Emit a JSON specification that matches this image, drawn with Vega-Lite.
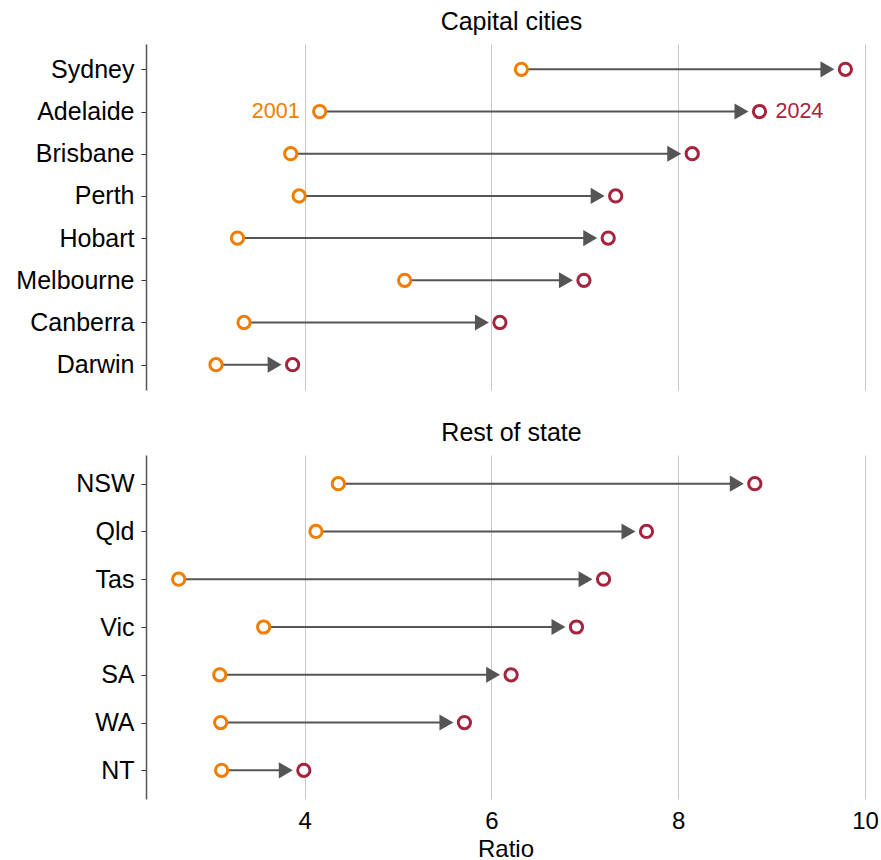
{
  "$schema": "https://vega.github.io/schema/vega-lite/v6.json",
  "background": "white",
  "padding": {"left": 15, "top": 10, "right": 5, "bottom": 0},
  "config": {
    "font": "Liberation Sans",
    "view": {"stroke": null},
    "concat": {"spacing": 31}
  },
  "datasets": {
    "capital": [
      {"region": "Sydney", "y2001": 6.32, "y2024": 9.79},
      {"region": "Adelaide", "y2001": 4.16, "y2024": 8.87},
      {"region": "Brisbane", "y2001": 3.85, "y2024": 8.15},
      {"region": "Perth", "y2001": 3.94, "y2024": 7.33},
      {"region": "Hobart", "y2001": 3.28, "y2024": 7.25},
      {"region": "Melbourne", "y2001": 5.07, "y2024": 6.99},
      {"region": "Canberra", "y2001": 3.35, "y2024": 6.09},
      {"region": "Darwin", "y2001": 3.05, "y2024": 3.87}
    ],
    "rest": [
      {"region": "NSW", "y2001": 4.36, "y2024": 8.82},
      {"region": "Qld", "y2001": 4.12, "y2024": 7.66},
      {"region": "Tas", "y2001": 2.65, "y2024": 7.2},
      {"region": "Vic", "y2001": 3.56, "y2024": 6.91},
      {"region": "SA", "y2001": 3.09, "y2024": 6.21},
      {"region": "WA", "y2001": 3.1, "y2024": 5.71},
      {"region": "NT", "y2001": 3.11, "y2024": 3.99}
    ]
  },
  "vconcat": [
    {
      "width": 719,
      "height": 346,
      "title": {"text": "Capital cities", "fontSize": 25, "fontWeight": "normal", "frame": "group", "anchor": "middle", "dx": 6, "offset": 9, "color": "black"},
      "data": {"name": "capital"},
      "encoding": {
        "y": {"field": "region", "type": "nominal", "sort": null, "title": null,
              "scale": {"type": "point", "padding": 0.6},
              "axis": {"labelFontSize": 25, "labelColor": "black", "domainColor": "#555", "domainWidth": 1.5, "tickColor": "#333", "tickSize": 5, "labelPadding": 7, "grid": false}}
      },
      "layer": [
        {
          "mark": {"type": "rule", "stroke": "#555", "strokeWidth": 2, "x2Offset": -14},
          "encoding": {
            "x": {"field": "y2001", "type": "quantitative", "scale": {"domain": [2.3, 10], "nice": false, "zero": false},
                  "axis": {"values": [4, 6, 8, 10], "labels": false, "ticks": false, "domain": false, "title": null, "gridColor": "#c8c8c8", "gridWidth": 1}},
            "x2": {"field": "y2024"}
          }
        },
        {
          "mark": {"type": "point", "shape": "triangle-right", "filled": true, "fill": "#555", "strokeWidth": 0, "size": 260, "opacity": 1, "xOffset": -18},
          "encoding": {"x": {"field": "y2024", "type": "quantitative"}}
        },
        {
          "mark": {"type": "point", "shape": "circle", "filled": false, "fill": "white", "fillOpacity": 1, "stroke": "#F07D00", "strokeWidth": 3, "size": 150, "opacity": 1},
          "encoding": {"x": {"field": "y2001", "type": "quantitative"}}
        },
        {
          "mark": {"type": "point", "shape": "circle", "filled": false, "fill": "white", "fillOpacity": 1, "stroke": "#A5243D", "strokeWidth": 3, "size": 150, "opacity": 1},
          "encoding": {"x": {"field": "y2024", "type": "quantitative"}}
        },
        {
          "transform": [{"filter": "datum.region === 'Adelaide'"}],
          "mark": {"type": "text", "align": "right", "baseline": "middle", "dx": -20, "fontSize": 21.5, "color": "#F07D00"},
          "encoding": {"x": {"field": "y2001", "type": "quantitative"}, "text": {"value": "2001"}}
        },
        {
          "transform": [{"filter": "datum.region === 'Adelaide'"}],
          "mark": {"type": "text", "align": "left", "baseline": "middle", "dx": 16, "fontSize": 21.5, "color": "#A5243D"},
          "encoding": {"x": {"field": "y2024", "type": "quantitative"}, "text": {"value": "2024"}}
        }
      ]
    },
    {
      "width": 719,
      "height": 344,
      "title": {"text": "Rest of state", "fontSize": 25, "fontWeight": "normal", "frame": "group", "anchor": "middle", "dx": 6, "offset": 9, "color": "black"},
      "data": {"name": "rest"},
      "encoding": {
        "y": {"field": "region", "type": "nominal", "sort": null, "title": null,
              "scale": {"type": "point", "padding": 0.6},
              "axis": {"labelFontSize": 25, "labelColor": "black", "domainColor": "#555", "domainWidth": 1.5, "tickColor": "#333", "tickSize": 5, "labelPadding": 7, "grid": false}}
      },
      "layer": [
        {
          "mark": {"type": "rule", "stroke": "#555", "strokeWidth": 2, "x2Offset": -14},
          "encoding": {
            "x": {"field": "y2001", "type": "quantitative", "scale": {"domain": [2.3, 10], "nice": false, "zero": false},
                  "axis": {"values": [4, 6, 8, 10], "format": "d", "labelFlush": false, "labelOverlap": false, "ticks": false, "domain": false, "title": "Ratio", "titleFontSize": 24, "titleFontWeight": "normal", "titleColor": "black", "titlePadding": 4, "labelFontSize": 24, "labelColor": "black", "labelPadding": 10, "gridColor": "#c8c8c8", "gridWidth": 1}},
            "x2": {"field": "y2024"}
          }
        },
        {
          "mark": {"type": "point", "shape": "triangle-right", "filled": true, "fill": "#555", "strokeWidth": 0, "size": 260, "opacity": 1, "xOffset": -18},
          "encoding": {"x": {"field": "y2024", "type": "quantitative"}}
        },
        {
          "mark": {"type": "point", "shape": "circle", "filled": false, "fill": "white", "fillOpacity": 1, "stroke": "#F07D00", "strokeWidth": 3, "size": 150, "opacity": 1},
          "encoding": {"x": {"field": "y2001", "type": "quantitative"}}
        },
        {
          "mark": {"type": "point", "shape": "circle", "filled": false, "fill": "white", "fillOpacity": 1, "stroke": "#A5243D", "strokeWidth": 3, "size": 150, "opacity": 1},
          "encoding": {"x": {"field": "y2024", "type": "quantitative"}}
        }
      ]
    }
  ]
}
